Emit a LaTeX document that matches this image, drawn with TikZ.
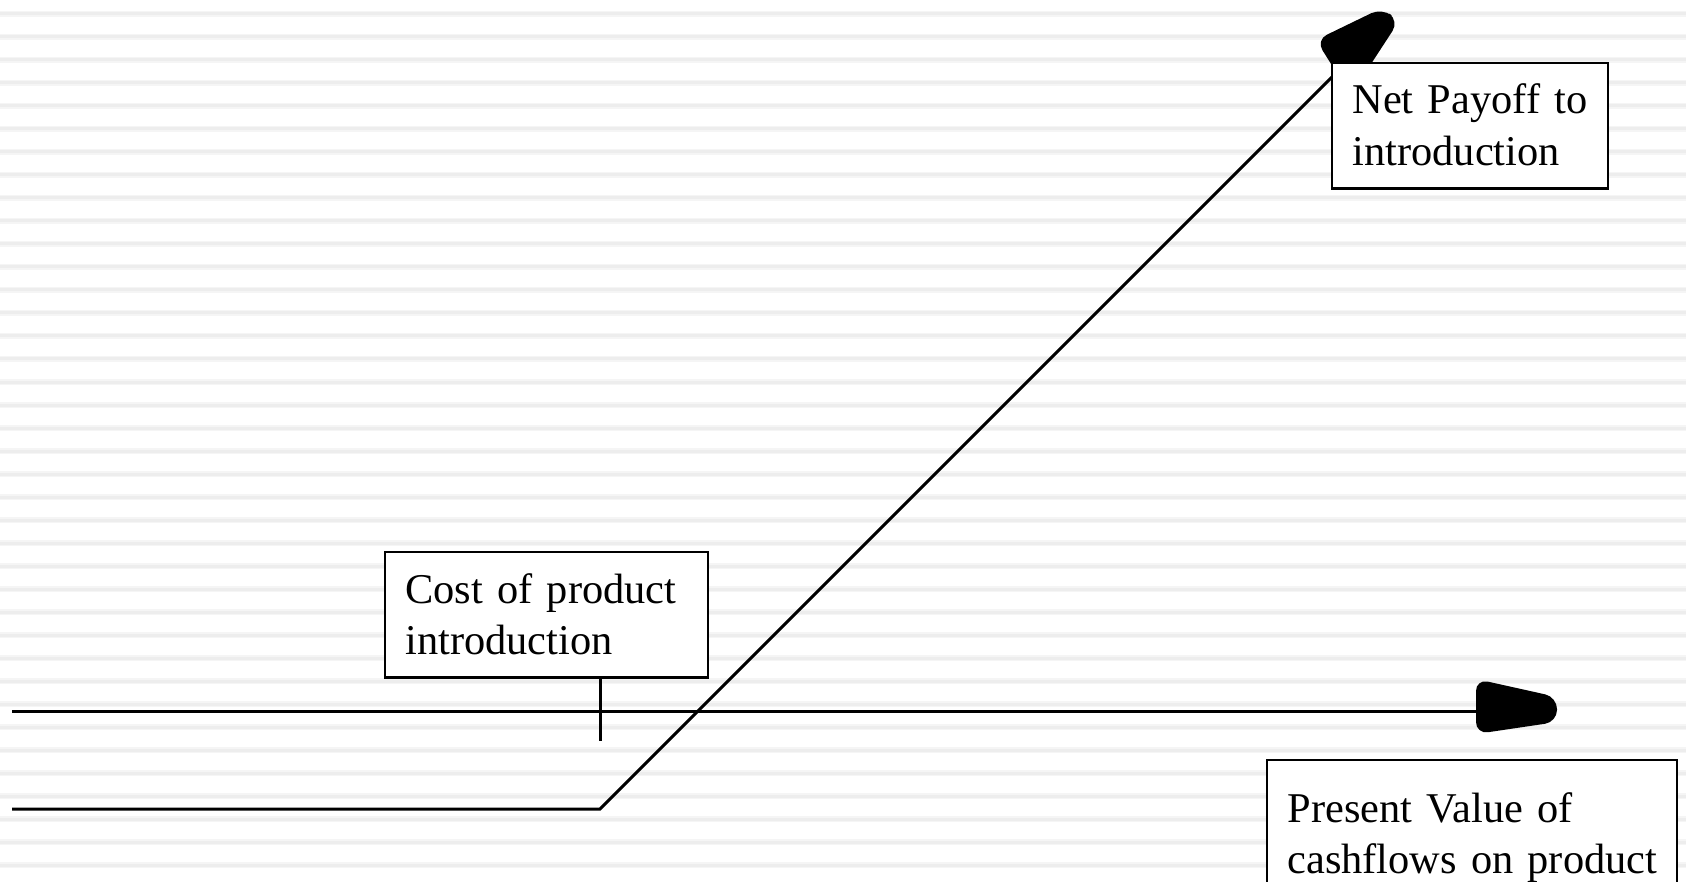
\documentclass[tikz,border=0pt]{standalone}
\usepackage{fontspec}
\setmainfont{Liberation Serif}
\definecolor{stripehalo}{HTML}{F5F5F5}
\definecolor{stripegray}{HTML}{EDEDED}
\begin{document}
\begin{tikzpicture}[x=1pt,y=-1pt,
  stripehalo/.style={line width=6pt, draw=stripehalo},
  stripe/.style={line width=3pt, draw=stripegray},
  ln/.style={line width=3pt, draw=black},
  txtbox/.style={draw=black, fill=white, line width=2.8pt, outer sep=0pt,
    inner xsep=20.5pt, inner ysep=0pt, anchor=north west, align=left,
    font=\fontsize{42.4pt}{51.5pt}\selectfont},
  head/.style={fill=black, rounded corners=12pt}]
\useasboundingbox (0,0) rectangle (1686,882);
\clip (0,0) rectangle (1686,882);
\fill[white] (0,0) rectangle (1686,882);
\foreach \k in {0,...,37} {
  \draw[stripehalo] (0,{14+23*\k}) -- (1686,{14+23*\k});
  \draw[stripe] (0,{14+23*\k}) -- (1686,{14+23*\k});
}
% coordinates
\coordinate (axL) at (12,711);
\coordinate (axR) at (1476,711);
\coordinate (lowL) at (12,809);
\coordinate (kink) at (600,809);
\coordinate (diagEnd) at (1335,74);
\coordinate (tickB) at (600,741);
% axis and payoff line
\draw[ln] (axL) -- (axR);
\draw[ln, line join=miter] (lowL) -- (kink) -- (diagEnd);
% arrowheads
\fill[head, shift={(axR)}] (0,-32) -- (81,-14) -- (81,11) -- (0,23) -- cycle;
\fill[head, shift={(diagEnd)}] (-19,-34) -- (47,-66) -- (64,-53) -- (19,16) -- (3,1) -- cycle;
% boxes
\node[txtbox, text width=282pt] (cost) at (385,552)
  {\rule{0pt}{51pt}\mbox{Cost of product}\\\mbox{introduction}\rule[-23pt]{0pt}{23pt}};
\node[txtbox, text width=235pt] (net) at (1332,63)
  {\rule{0pt}{51pt}\mbox{Net Payoff to}\\\mbox{introduction}\rule[-23pt]{0pt}{23pt}};
\node[txtbox, text width=369pt] (pv) at (1267,760)
  {\rule{0pt}{62pt}\mbox{Present Value of}\\\mbox{cashflows on product}\rule[-40pt]{0pt}{40pt}};
% tick from the cost box
\draw[ln] (cost.south -| tickB) -- (tickB);
\end{tikzpicture}
\end{document}
